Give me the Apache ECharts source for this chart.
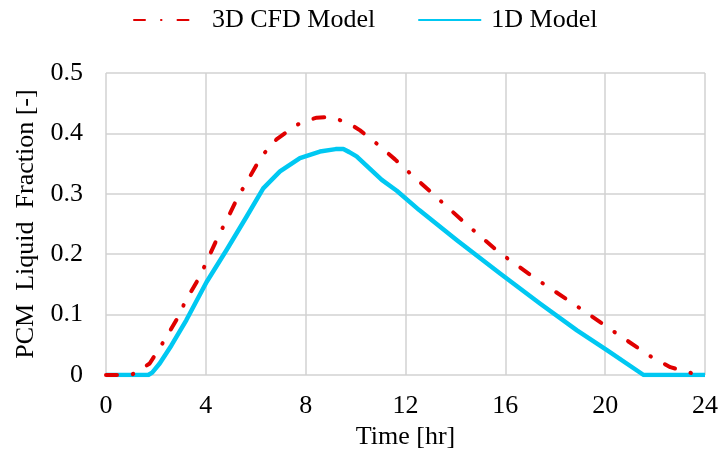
<!DOCTYPE html>
<html>
<head>
<meta charset="utf-8">
<script src="https://cdn.jsdelivr.net/npm/echarts@6/dist/echarts.min.js"></script>
<style>
  html, body { margin: 0; padding: 0; background: #fff; }
  #chart { width: 727px; height: 459px; }
</style>
</head>
<body>
<div id="chart"></div>
<script>
// time [hr] and liquid fraction
var cfdTime  = [0, 1.0, 1.15, 1.75, 2.35, 2.82, 3.22, 3.76, 4.09, 4.49, 4.89, 5.29, 5.76, 6.23, 6.83, 7.64, 8.1, 8.44, 9.0, 9.37, 9.8, 10.18, 10.91, 11.58, 12.05, 12.96, 14.32, 15.72, 17.2, 18.73, 20.27, 21.81, 22.61, 23.48, 24];
var cfdValue = [0, 0, 0.003, 0.019, 0.058, 0.091, 0.125, 0.163, 0.193, 0.229, 0.261, 0.295, 0.328, 0.362, 0.39, 0.414, 0.422, 0.426, 0.427, 0.422, 0.415, 0.405, 0.381, 0.357, 0.339, 0.305, 0.254, 0.204, 0.16, 0.118, 0.074, 0.031, 0.013, 0.003, 0];

var oneDTime  = [0, 1.69, 1.85, 2.15, 2.62, 3.22, 4.03, 4.83, 5.63, 6.3, 6.97, 7.77, 8.57, 9.2, 9.51, 9.75, 10.04, 11.05, 11.65, 12.55, 14.06, 15.79, 17.4, 18.87, 20.07, 21.54, 24];
var oneDValue = [0, 0, 0.004, 0.019, 0.049, 0.091, 0.154, 0.207, 0.262, 0.309, 0.337, 0.359, 0.37, 0.374, 0.374, 0.369, 0.362, 0.323, 0.305, 0.273, 0.223, 0.168, 0.118, 0.074, 0.041, 0, 0];

var xTicks = { min: 0, max: 24, step: 4 };
var yTicks = { min: 0, max: 0.5, step: 0.1 };

function pairs(xs, ys) {
    return xs.map(function (x, i) { return [x, ys[i]]; });
}

var chart = echarts.init(document.getElementById('chart'));
var font = '"Liberation Serif", "Times New Roman", serif';
var gridColor = '#d2d2d2';
var fontSize = 26;

var option = {
    animation: false,
    textStyle: { fontFamily: font },
    legend: {
        top: 7,
        left: 133,
        padding: 0,
        itemWidth: 63,
        itemHeight: 14,
        itemGap: 42,
        itemStyle: { opacity: 0 },
        textStyle: { fontFamily: font, fontSize: fontSize, color: '#000', padding: [0, 0, 0, 10] },
        data: [
            '3D CFD Model',
            { name: '1D Model', textStyle: { padding: [0, 0, 0, 5] } }
        ]
    },
    grid: { left: 106, right: 22, top: 73, bottom: 84 },
    xAxis: {
        type: 'value',
        min: xTicks.min, max: xTicks.max, interval: xTicks.step,
        name: 'Time [hr]',
        nameLocation: 'middle',
        nameGap: 47,
        nameTextStyle: { fontFamily: font, fontSize: fontSize, color: '#000' },
        axisLine: { show: false },
        axisTick: { show: false },
        axisLabel: { fontFamily: font, fontSize: fontSize, color: '#000', margin: 18 },
        splitLine: { lineStyle: { color: gridColor, width: 1.5 } }
    },
    yAxis: {
        type: 'value',
        min: yTicks.min, max: yTicks.max, interval: yTicks.step,
        name: 'PCM  Liquid  Fraction [-]',
        nameLocation: 'middle',
        nameGap: 65,
        nameTextStyle: { fontFamily: font, fontSize: fontSize, color: '#000' },
        axisLine: { show: false },
        axisTick: { show: false },
        axisLabel: { fontFamily: font, fontSize: fontSize, color: '#000', margin: 23 },
        splitLine: { lineStyle: { color: gridColor, width: 1.5 } }
    },
    series: [
        {
            name: '3D CFD Model',
            type: 'line',
            showSymbol: false,
            symbol: 'none',
            z: 3,
            lineStyle: { color: '#e00000', width: 4, type: [11, 16, 0.5, 16], cap: 'round', join: 'round' },
            itemStyle: { color: '#e00000' },
            data: pairs(cfdTime, cfdValue)
        },
        {
            name: '1D Model',
            type: 'line',
            showSymbol: false,
            symbol: 'none',
            z: 2,
            lineStyle: { color: '#00c8f2', width: 4.5, join: 'round' },
            itemStyle: { color: '#00c8f2' },
            data: pairs(oneDTime, oneDValue)
        }
    ]
};
chart.setOption(option);
</script>
</body>
</html>
